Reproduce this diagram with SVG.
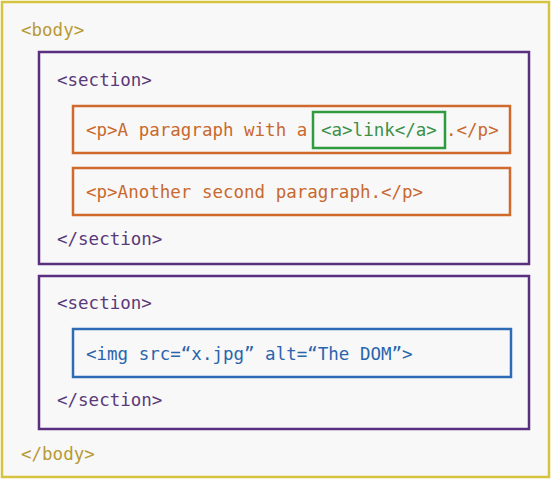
<svg xmlns="http://www.w3.org/2000/svg" width="553" height="482" viewBox="0 0 553 482">
<style>
text{font-family:"DejaVu Sans Mono","Liberation Mono",monospace;font-size:17.5px}
.box{fill:none;stroke-width:2.5}
.body{stroke:#d6c33f}
.sec{stroke:#5a2f80}
.p{stroke:#d06a2c}
.a{stroke:#2f9a3e}
.img{stroke:#2d6bb4}
.tb{fill:#b89a35}
.ts{fill:#5a3a78}
.tp{fill:#c8692e}
.ta{fill:#3b9045}
.ti{fill:#2a64ad}
</style>
<rect width="553" height="482" fill="#ffffff"/>
<g id="body">
<rect class="box body" x="2" y="2" width="547" height="475" style="fill:#f8f8f8"/>
<text class="tb" x="21" y="36">&lt;body&gt;</text>
<text class="tb" x="21" y="460">&lt;/body&gt;</text>
</g>
<g id="section1">
<rect class="box sec" x="39" y="52" width="490" height="212"/>
<text class="ts" x="57" y="86">&lt;section&gt;</text>
<text class="ts" x="57" y="245">&lt;/section&gt;</text>
</g>
<g id="p1">
<rect class="box p" x="73" y="106" width="437" height="47"/>
<text class="tp" x="86" y="136">&lt;p&gt;A paragraph with a</text>
<text class="tp" x="446" y="136">.&lt;/p&gt;</text>
</g>
<g id="a">
<rect class="box a" x="313" y="112" width="132" height="36"/>
<text class="ta" x="321" y="136">&lt;a&gt;link&lt;/a&gt;</text>
</g>
<g id="p2">
<rect class="box p" x="73" y="168" width="437" height="47"/>
<text class="tp" x="86" y="198">&lt;p&gt;Another second paragraph.&lt;/p&gt;</text>
</g>
<g id="section2">
<rect class="box sec" x="39" y="276" width="490" height="153"/>
<text class="ts" x="57" y="309">&lt;section&gt;</text>
<text class="ts" x="57" y="406">&lt;/section&gt;</text>
</g>
<g id="img">
<rect class="box img" x="73" y="329" width="438" height="48"/>
<text class="ti" x="86" y="360">&lt;img src=“x.jpg” alt=“The DOM”&gt;</text>
</g>
<g id="connectors"/>
</svg>
